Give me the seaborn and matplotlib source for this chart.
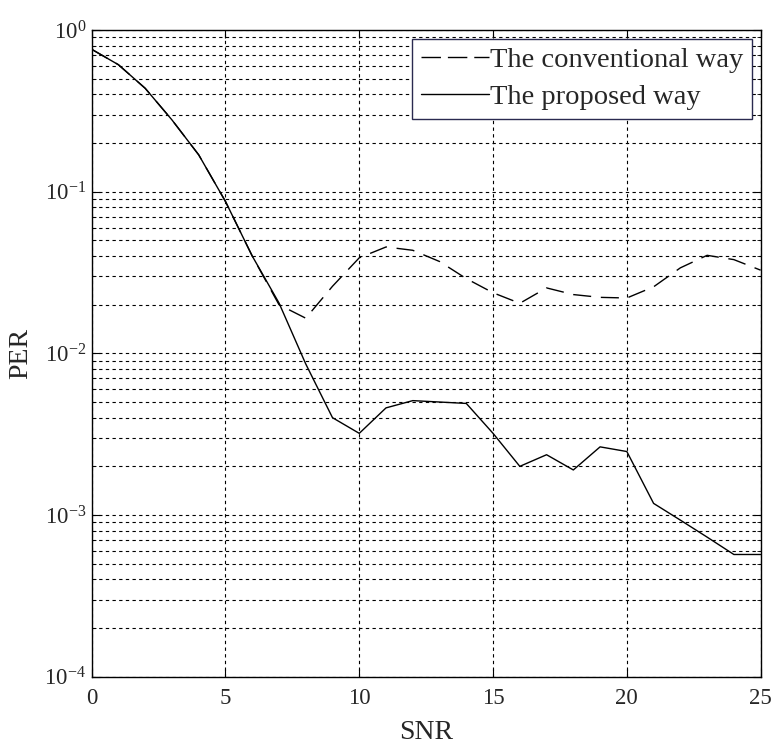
import numpy as np
import pandas as pd
import matplotlib
matplotlib.use("Agg")
import matplotlib.pyplot as plt
import seaborn as sns
from matplotlib.ticker import LogLocator, NullFormatter, FixedLocator

snr = list(range(26))
conventional = [0.76, 0.61, 0.436, 0.278, 0.169, 0.087, 0.040, 0.020, 0.0165, 0.026,
                0.039, 0.0455, 0.0434, 0.037, 0.029, 0.0237, 0.0204, 0.0254, 0.0231, 0.0222,
                0.022, 0.0258, 0.0338, 0.0404, 0.038, 0.0327]
proposed = [0.76, 0.61, 0.436, 0.278, 0.169, 0.087, 0.040, 0.0205, 0.0086, 0.0040,
            0.0032, 0.0046, 0.0051, 0.0050, 0.0049, 0.0032, 0.0020, 0.00236, 0.0019, 0.00264,
            0.00247, 0.00118, 0.00093, 0.00073, 0.00057, 0.00057]
labels = ["The conventional way", "The proposed way"]
xticks = [0, 5, 10, 15, 20, 25]

sns.set_style("white")
plt.rcParams['font.family'] = ['Liberation Serif', 'DejaVu Serif']
plt.rcParams['mathtext.fontset'] = 'custom'
plt.rcParams['mathtext.rm'] = 'Liberation Serif'
plt.rcParams['mathtext.it'] = 'Liberation Serif:italic'
plt.rcParams['mathtext.bf'] = 'Liberation Serif:bold'

fig = plt.figure(figsize=(7.73, 7.45), dpi=100)
ax = fig.add_axes([0.1186, 0.0917, 0.984 - 0.1186, 0.9597 - 0.0917])

df = pd.DataFrame({"SNR": snr * 2,
                   "PER": conventional + proposed,
                   "Method": [labels[0]] * len(snr) + [labels[1]] * len(snr)})

sns.lineplot(data=df[df.Method == labels[0]], x="SNR", y="PER", ax=ax, color="black",
             lw=1.0, label=labels[0])
sns.lineplot(data=df[df.Method == labels[1]], x="SNR", y="PER", ax=ax, color="black",
             lw=1.0, label=labels[1])
ax.lines[0].set_dashes([13, 7])

ax.set_yscale("log")
ax.set_xlim(0, 25)
ax.set_ylim(1e-4, 1)
ax.xaxis.set_major_locator(FixedLocator(xticks))
ax.yaxis.set_major_locator(LogLocator(base=10, numticks=10))
ax.yaxis.set_minor_locator(LogLocator(base=10, subs=np.arange(2, 10), numticks=20))
ax.yaxis.set_minor_formatter(NullFormatter())

ax.grid(True, which="both", axis="y", color="black", linestyle=(0, (3, 3)), lw=0.8)
ax.grid(True, which="major", axis="x", color="black", linestyle=(0, (3, 3)), lw=0.8)

ax.tick_params(which="both", direction="in", top=True, right=True, bottom=True, left=True,
               labelsize=16.5, color="black")
ax.tick_params(which="major", length=6)
ax.tick_params(which="minor", length=3)
ax.tick_params(axis="x", pad=8)
ax.tick_params(axis="y", pad=4)

for s in ax.spines.values():
    s.set_color("black")
    s.set_linewidth(1.0)

ax.set_xlabel("SNR", fontsize=20, labelpad=8)
ax.set_ylabel("PER", fontsize=20, labelpad=8)

leg = ax.legend(loc="upper right", fontsize=20.5, frameon=True, fancybox=False,
                handlelength=2.4, handletextpad=0.05, borderpad=0.3, labelspacing=0.4,
                borderaxespad=0.3)
leg.get_frame().set_edgecolor("#2a2a50")
leg.get_frame().set_linewidth(1.0)
leg.get_frame().set_alpha(1.0)
leg.get_lines()[0].set_dashes([14, 5])

fig.savefig("out.png", dpi=100)
